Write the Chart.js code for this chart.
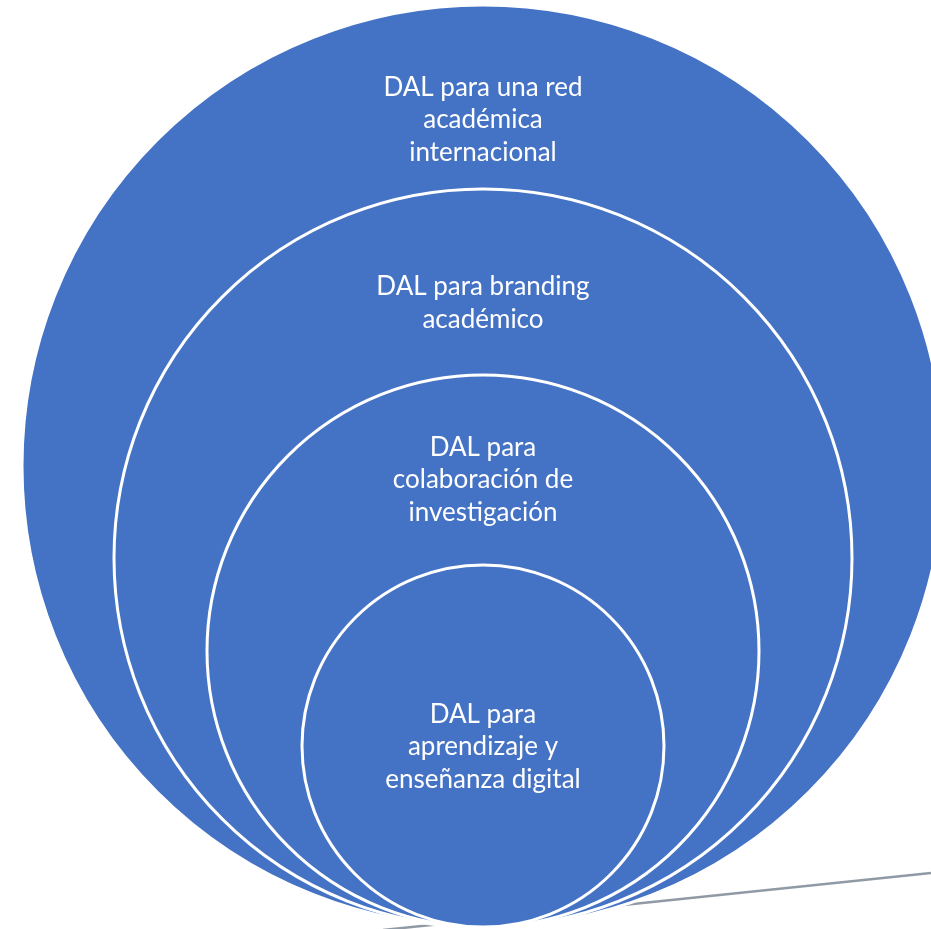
<!DOCTYPE html>
<html lang="es">
  <head>
    <meta charset="UTF-8">
    <title>DAL - círculos anidados</title>
    <script src="https://cdn.jsdelivr.net/npm/chart.js"></script>
    <style>
      html, body { margin: 0; padding: 0; background: #fff; }
      #wrap { width: 931px; height: 929px; position: relative; }
    </style>
  </head>
  <body>
    <div id="wrap"><canvas id="rings"></canvas></div>
    <script>
      // nested circles, all touching the same bottom point (units = px of the original)
      var ringLabels = [
        ['DAL para una red', 'académica', 'internacional'],
        ['DAL para branding', 'académico'],
        ['DAL para', 'colaboración de', 'investigación'],
        ['DAL para', 'aprendizaje y', 'enseñanza digital']
      ];
      var ringRadius = [461, 369, 276, 181];
      var centerX = 483;
      var baseY = 927;
      // faint grey line behind the rings
      var lineX = [383, 931];
      var lineY = [930, 873];

      var ringPoints = ringRadius.map(function(r) { return { x: centerX, y: baseY - r }; });
      var linePoints = lineX.map(function(x, i) { return { x: x, y: lineY[i] }; });

      // radius in x-units -> pixels (bubble parses radius before the scales are laid out)
      function pxRadius(chart, r) {
        var s = chart.scales && chart.scales.x;
        var d = s ? s.getPixelForValue(r) - s.getPixelForValue(0) : NaN;
        if (!isFinite(d)) {
          var o = chart.options.scales.x;
          d = r * chart.width / (o.max - o.min);
        }
        return d;
      }

      var ringText = {
        id: 'ringText',
        afterDatasetsDraw: function(chart) {
          var ctx = chart.ctx, ys = chart.scales.y;
          var nudge = [23, 21, 10, 1];
          ctx.save();
          ctx.fillStyle = '#ffffff';
          ctx.font = '26px Lato, "Open Sans", sans-serif';
          ctx.textAlign = 'center';
          ctx.textBaseline = 'middle';
          ringLabels.forEach(function(lines, i) {
            var top = ringPoints[i].y - ringRadius[i];
            var bottom = i + 1 < ringRadius.length ? ringPoints[i + 1].y - ringRadius[i + 1] : baseY;
            var mid = (ys.getPixelForValue(top) + ys.getPixelForValue(bottom)) / 2 + nudge[i];
            var lh = 32.5;
            var x = chart.scales.x.getPixelForValue(centerX);
            lines.forEach(function(t, k) {
              ctx.fillText(t, x, mid + (k - (lines.length - 1) / 2) * lh);
            });
          });
          ctx.restore();
        }
      };

      new Chart(document.getElementById('rings'), {
        type: 'bubble',
        data: {
          datasets: [
            {
              type: 'line',
              data: linePoints,
              borderColor: 'rgba(105,120,135,0.75)',
              borderWidth: 2.5,
              pointRadius: 0,
              order: 2,
              clip: false
            },
            {
              type: 'bubble',
              data: ringPoints,
              backgroundColor: '#4472C4',
              borderColor: '#ffffff',
              borderWidth: 3,
              radius: function(c) { return pxRadius(c.chart, ringRadius[c.dataIndex]); },
              order: 1,
              clip: false
            }
          ]
        },
        options: {
          responsive: true,
          maintainAspectRatio: false,
          animation: false,
          events: [],
          layout: { padding: 0, autoPadding: false },
          plugins: { legend: { display: false }, tooltip: { enabled: false } },
          scales: {
            x: { type: 'linear', min: 0, max: 931, display: false },
            y: { type: 'linear', min: 0, max: 929, reverse: true, display: false }
          }
        },
        plugins: [ringText]
      });
    </script>
  </body>
</html>
